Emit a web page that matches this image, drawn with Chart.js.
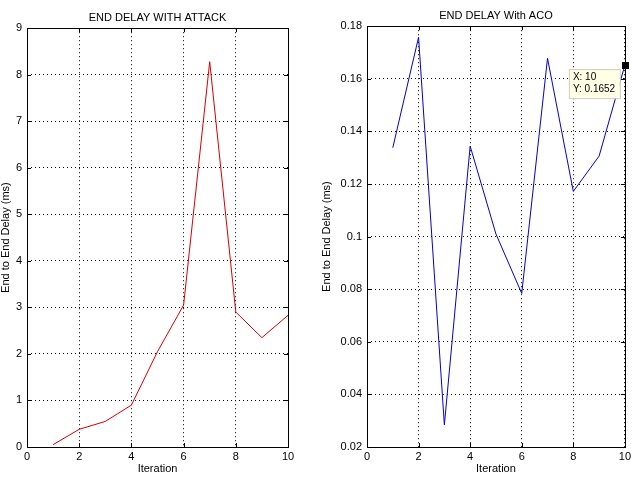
<!DOCTYPE html>
<html>
<head>
<meta charset="utf-8">
<script src="https://cdn.jsdelivr.net/npm/chart.js@4"></script>
<style>
  body { margin: 0; background: #fff; }
  #wrap { position: relative; width: 634px; height: 482px; }
  canvas { position: absolute; top: 0; }
</style>
</head>
<body>
<div id="wrap">
  <canvas id="attackChart" width="317" height="482" style="left:0"></canvas>
  <canvas id="acoChart" width="317" height="482" style="left:317px"></canvas>
</div>
<script>
// data
const iterations = [1, 2, 3, 4, 5, 6, 7, 8, 9, 10];
const delayAttack = [0.05, 0.38, 0.55, 0.9, 2.05, 3.05, 8.28, 2.9, 2.35, 2.83];
const delayAco = [0.1338, 0.1758, 0.0284, 0.1344, 0.101, 0.0784, 0.1678, 0.1172, 0.1306, 0.1652];
const xTicks = [0, 2, 4, 6, 8, 10];
const attackTicks = [0, 1, 2, 3, 4, 5, 6, 7, 8, 9];
const acoTicks = [0.02, 0.04, 0.06, 0.08, 0.1, 0.12, 0.14, 0.16, 0.18];
const dataTip = { x: 10, y: 0.1652 };

const FONT = "Arial, 'Liberation Sans', Helvetica, sans-serif";
Chart.defaults.font.family = FONT;
Chart.defaults.color = "#000";

// MATLAB style box with inward tick marks
const boxPlugin = {
  id: "box",
  afterDraw(chart) {
    const { ctx, chartArea: a, scales } = chart;
    ctx.save();
    ctx.strokeStyle = "#000";
    ctx.lineWidth = 1;
    ctx.setLineDash([]);
    ctx.beginPath();
    scales.x.ticks.forEach((t) => {
      const px = Math.round(scales.x.getPixelForValue(t.value)) + 0.5;
      ctx.moveTo(px, a.bottom); ctx.lineTo(px, a.bottom - 4);
      ctx.moveTo(px, a.top); ctx.lineTo(px, a.top + 4);
    });
    scales.y.ticks.forEach((t) => {
      const py = Math.round(scales.y.getPixelForValue(t.value)) + 0.5;
      ctx.moveTo(a.left, py); ctx.lineTo(a.left + 4, py);
      ctx.moveTo(a.right, py); ctx.lineTo(a.right - 4, py);
    });
    ctx.stroke();
    ctx.strokeRect(Math.round(a.left) + 0.5, Math.round(a.top) + 0.5,
      Math.round(a.right - a.left), Math.round(a.bottom - a.top));
    ctx.restore();
  },
};

// the data cursor box on the ACO plot
const tipPlugin = {
  id: "tip",
  afterDraw(chart) {
    if (chart.canvas.id !== "acoChart") return;
    const { ctx, scales } = chart;
    const px = scales.x.getPixelForValue(dataTip.x);
    const py = scales.y.getPixelForValue(dataTip.y);
    ctx.save();
    const bx = px - 56, by = py + 4, bw = 51, bh = 29;
    ctx.fillStyle = "#ffffe6";
    ctx.fillRect(bx, by, bw, bh);
    ctx.strokeStyle = "#cfcfc0";
    ctx.strokeRect(bx + 0.5, by + 0.5, bw, bh);
    ctx.fillStyle = "#000";
    ctx.font = "10px " + FONT;
    ctx.textBaseline = "middle";
    ctx.fillText("X: " + dataTip.x, bx + 4, by + 8);
    ctx.fillText("Y: " + dataTip.y, bx + 4, by + 20);
    ctx.fillRect(Math.round(px) - 3, Math.round(py) - 3, 7, 7);
    ctx.restore();
  },
};

function makeChart(id, title, values, color, yTicks, yWidth, padRight, titlePad, yTitlePad) {
  const ctx = document.getElementById(id).getContext("2d");
  return new Chart(ctx, {
    type: "line",
    data: {
      datasets: [
        {
          data: iterations.map((x, i) => ({ x: x, y: values[i] })),
          borderColor: color,
          borderWidth: 1,
          pointRadius: 0,
          tension: 0,
          fill: false,
        },
      ],
    },
    options: {
      responsive: false,
      animation: false,
      devicePixelRatio: 1,
      layout: { padding: { left: 0, right: padRight, top: 0, bottom: 0 } },
      plugins: {
        legend: { display: false },
        tooltip: { enabled: false },
        title: {
          display: true,
          text: title,
          fullSize: false,
          font: { size: 11, weight: "normal" },
          padding: titlePad,
          color: "#000",
        },
      },
      scales: {
        x: {
          type: "linear",
          min: 0,
          max: 10,
          afterBuildTicks: (s) => { s.ticks = xTicks.map((v) => ({ value: v })); },
          ticks: { font: { size: 11 }, padding: 3, maxRotation: 0 },
          grid: { color: "#000", drawTicks: false, lineWidth: 1 },
          border: { display: false, dash: [1, 3] },
          title: { display: true, text: "Iteration", font: { size: 11 }, padding: { top: 0, bottom: 6 } },
          afterFit: (s) => { s.height = 35; },
        },
        y: {
          type: "linear",
          min: yTicks[0],
          max: yTicks[yTicks.length - 1],
          afterBuildTicks: (s) => { s.ticks = yTicks.map((v) => ({ value: v })); },
          ticks: {
            font: { size: 11 },
            padding: 5,
            callback: (v) => String(+v.toFixed(2)),
          },
          grid: { color: "#000", drawTicks: false, lineWidth: 1 },
          border: { display: false, dash: [1, 3] },
          title: { display: true, text: "End to End Delay (ms)", font: { size: 11 }, padding: { top: yTitlePad, bottom: 0 } },
          afterFit: (s) => { s.width = yWidth; },
        },
      },
    },
    plugins: [boxPlugin, tipPlugin],
  });
}

makeChart("attackChart", "END DELAY WITH ATTACK", delayAttack, "#d40000",
  attackTicks, 27, 29, { top: 11, bottom: 4 }, -1);
makeChart("acoChart", "END DELAY With ACO", delayAco, "#0000cc",
  acoTicks, 50, 7, { top: 9, bottom: 4 }, 3);
</script>
</body>
</html>
